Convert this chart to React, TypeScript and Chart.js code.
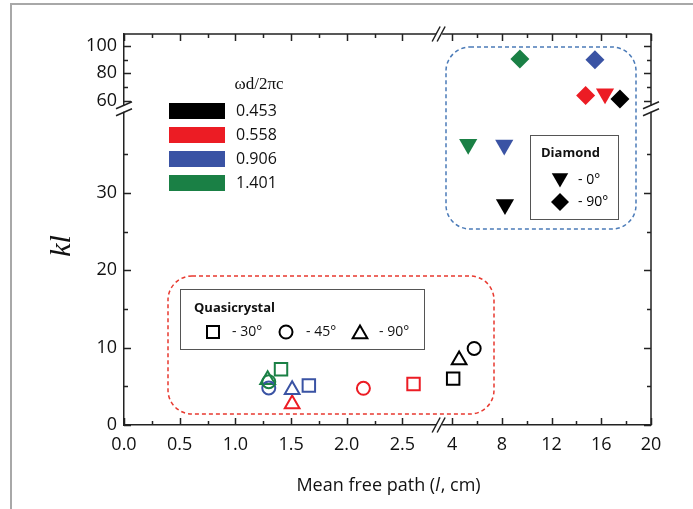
import React, { useEffect, useRef } from 'react';
import { Chart, registerables } from 'chart.js';
Chart.register(...registerables);

// ---------- data ----------
const freqLabels = ['0.453', '0.558', '0.906', '1.401'];
const freqColors = ['#000000', '#ec1c24', '#3a53a4', '#1a8045'];

// Quasicrystal (mean free path l, kl) per frequency
const qc30L = [4.08, 2.6, 1.66, 1.41];
const qc30KL = [6.0, 5.3, 5.1, 7.2];
const qc45L = [5.77, 2.15, 1.3, 1.3];
const qc45KL = [9.9, 4.75, 4.8, 5.6];
const qc90L = [4.56, 1.51, 1.51, 1.29];
const qc90KL = [8.4, 2.7, 4.55, 5.85];
// Diamond
const dia0L = [8.25, 16.3, 8.19, 5.29];
const dia0KL = [28.5, 65.1, 36.2, 36.3];
const dia90L = [17.5, 14.74, 15.49, 9.45];
const dia90KL = [61.3, 63.9, 89.9, 90.4];

// ticks
const xMajorLow = [0, 0.5, 1, 1.5, 2, 2.5];
const xMajorHigh = [4, 8, 12, 16, 20];
const xMinor = [0.25, 0.75, 1.25, 1.75, 2.25, 6, 10, 14, 18];
const yMajorLow = [0, 10, 20, 30];
const yMajorHigh = [60, 80, 100];
const yMinor = [5, 15, 25, 35, 70, 90];

// ---------- broken-axis transforms ----------
const tx = (l: number) => (l <= 3 ? l : 2.947 + (l - 4) * 0.1116);
const ty = (k: number) => (k <= 45 ? k : 41.91 + (k - 60) * 0.178);
const X_BREAK = 2.83;
const Y_BREAK = 40.9;

const FONT = '"Open Sans", sans-serif';
const xTickVals = [...xMajorLow, ...xMajorHigh];
const xTickLabels = [...xMajorLow.map((v) => v.toFixed(1)), ...xMajorHigh.map(String)];
const yTickVals = [...yMajorLow, ...yMajorHigh];
const yTickLabels = yTickVals.map(String);

const pts = (ls: number[], ks: number[]) => ls.map((l, i) => ({ x: tx(l), y: ty(ks[i]) }));

function roundRect(ctx: CanvasRenderingContext2D, x: number, y: number, w: number, h: number, r: number) {
  ctx.beginPath();
  ctx.moveTo(x + r, y);
  ctx.lineTo(x + w - r, y);
  ctx.arcTo(x + w, y, x + w, y + r, r);
  ctx.lineTo(x + w, y + h - r);
  ctx.arcTo(x + w, y + h, x + w - r, y + h, r);
  ctx.lineTo(x + r, y + h);
  ctx.arcTo(x, y + h, x, y + h - r, r);
  ctx.lineTo(x, y + r);
  ctx.arcTo(x, y, x + r, y, r);
  ctx.closePath();
}

function triangle(ctx: CanvasRenderingContext2D, x: number, y: number, r: number, down: boolean) {
  const s = down ? -1 : 1;
  ctx.beginPath();
  ctx.moveTo(x, y - s * r);
  ctx.lineTo(x + r * 0.866, y + s * r * 0.5);
  ctx.lineTo(x - r * 0.866, y + s * r * 0.5);
  ctx.closePath();
}

const decor = {
  id: 'decor',
  beforeDraw(chart: any) {
    const ctx = chart.ctx;
    ctx.save();
    ctx.fillStyle = '#ffffff';
    ctx.fillRect(0, 0, chart.width, chart.height);
    // outer frame
    ctx.strokeStyle = '#a8a8a8';
    ctx.lineWidth = 2;
    ctx.beginPath();
    ctx.moveTo(11, chart.height);
    ctx.lineTo(11, 4);
    ctx.lineTo(chart.width, 4);
    ctx.stroke();
    ctx.restore();
  },
  beforeDatasetsDraw(chart: any) {
    const ctx = chart.ctx;
    ctx.save();
    ctx.setLineDash([4, 3]);
    ctx.lineWidth = 1.5;
    ctx.strokeStyle = '#e8392f';
    roundRect(ctx, 168, 276, 326, 138, 24);
    ctx.stroke();
    ctx.strokeStyle = '#4b7bb8';
    roundRect(ctx, 446, 47, 190, 182, 24);
    ctx.stroke();
    ctx.restore();
  },
  afterDraw(chart: any) {
    const ctx = chart.ctx;
    const xs = chart.scales.x;
    const ys = chart.scales.y;
    const { left, right, top, bottom } = chart.chartArea;
    ctx.save();
    ctx.strokeStyle = '#222';
    ctx.lineWidth = 1.5;
    // top & right axis lines
    ctx.beginPath();
    ctx.moveTo(left, top);
    ctx.lineTo(right, top);
    ctx.lineTo(right, bottom);
    ctx.stroke();
    // ticks (inward)
    const xt = (v: number, len: number) => {
      const p = Math.round(xs.getPixelForValue(tx(v))) + 0.5;
      ctx.beginPath();
      ctx.moveTo(p, bottom);
      ctx.lineTo(p, bottom - len);
      ctx.moveTo(p, top);
      ctx.lineTo(p, top + len);
      ctx.stroke();
    };
    const yt = (v: number, len: number) => {
      const p = Math.round(ys.getPixelForValue(ty(v))) + 0.5;
      ctx.beginPath();
      ctx.moveTo(left, p);
      ctx.lineTo(left + len, p);
      ctx.moveTo(right, p);
      ctx.lineTo(right - len, p);
      ctx.stroke();
    };
    xTickVals.forEach((v) => xt(v, 7));
    xMinor.forEach((v) => xt(v, 4));
    yTickVals.forEach((v) => yt(v, 7));
    yMinor.forEach((v) => yt(v, 4));

    // axis breaks
    const bx = xs.getPixelForValue(X_BREAK);
    [bottom, top].forEach((yy) => {
      ctx.fillStyle = '#fff';
      ctx.fillRect(bx - 3, yy - 2, 6, 4);
      ctx.beginPath();
      ctx.moveTo(bx - 7, yy + 7.5);
      ctx.lineTo(bx + 1, yy - 7.5);
      ctx.moveTo(bx - 2, yy + 7.5);
      ctx.lineTo(bx + 6, yy - 7.5);
      ctx.stroke();
    });
    const by = ys.getPixelForValue(Y_BREAK);
    [left, right].forEach((xx) => {
      ctx.fillStyle = '#fff';
      ctx.fillRect(xx - 2, by - 3, 4, 6);
      ctx.beginPath();
      ctx.moveTo(xx - 8, by - 0);
      ctx.lineTo(xx + 8, by - 7);
      ctx.moveTo(xx - 8, by + 7);
      ctx.lineTo(xx + 8, by + 0);
      ctx.stroke();
    });

    // axis titles
    ctx.fillStyle = '#111';
    ctx.textBaseline = 'alphabetic';
    const p1 = 'Mean free path (';
    const p2 = 'l';
    const p3 = ', cm)';
    ctx.font = `18px ${FONT}`;
    const w1 = ctx.measureText(p1).width;
    const w3 = ctx.measureText(p3).width;
    ctx.font = `italic 18px ${FONT}`;
    const w2 = ctx.measureText(p2).width;
    const sx = 388 - (w1 + w2 + w3) / 2;
    ctx.textAlign = 'left';
    ctx.font = `18px ${FONT}`;
    ctx.fillText(p1, sx, 491);
    ctx.font = `italic 18px ${FONT}`;
    ctx.fillText(p2, sx + w1, 491);
    ctx.font = `18px ${FONT}`;
    ctx.fillText(p3, sx + w1 + w2 + 1, 491);

    ctx.save();
    ctx.translate(70, 246);
    ctx.rotate(-Math.PI / 2);
    ctx.font = 'italic 30px "Liberation Serif", serif';
    ctx.textAlign = 'center';
    ctx.fillText('kl', 0, 0);
    ctx.restore();

    // frequency legend
    ctx.font = '17px "Liberation Serif", serif';
    ctx.textAlign = 'center';
    ctx.textBaseline = 'middle';
    ctx.fillText('ωd/2πc', 259, 85);
    ctx.textAlign = 'left';
    ctx.font = `16px ${FONT}`;
    freqLabels.forEach((lab, i) => {
      const y0 = 103 + i * 24;
      ctx.fillStyle = freqColors[i];
      ctx.fillRect(169, y0, 56, 16);
      ctx.fillStyle = '#111';
      ctx.fillText(lab, 236, y0 + 8.5);
    });

    // Quasicrystal legend
    ctx.lineWidth = 1;
    ctx.strokeStyle = '#555';
    ctx.setLineDash([]);
    ctx.strokeRect(180.5, 289.5, 244, 60);
    ctx.fillStyle = '#111';
    ctx.font = `bold 13px ${FONT}`;
    ctx.fillText('Quasicrystal', 194, 308);
    ctx.font = `14px ${FONT}`;
    ctx.strokeStyle = '#000';
    ctx.lineWidth = 2;
    ctx.strokeRect(207, 326, 12, 12);
    ctx.fillText('- 30°', 232, 332);
    ctx.beginPath();
    ctx.arc(286, 332, 6.5, 0, Math.PI * 2);
    ctx.stroke();
    ctx.fillText('- 45°', 306, 332);
    triangle(ctx, 360, 334, 8.5, false);
    ctx.stroke();
    ctx.fillText('- 90°', 379, 332);

    // Diamond legend
    ctx.lineWidth = 1;
    ctx.strokeStyle = '#555';
    ctx.strokeRect(530.5, 135.5, 88, 84);
    ctx.font = `bold 13px ${FONT}`;
    ctx.fillText('Diamond', 541, 153);
    ctx.font = `14px ${FONT}`;
    ctx.fillStyle = '#000';
    triangle(ctx, 560, 178, 9.5, true);
    ctx.fill();
    ctx.fillText('- 0°', 578, 180);
    ctx.beginPath();
    ctx.moveTo(560, 193);
    ctx.lineTo(569, 202);
    ctx.lineTo(560, 211);
    ctx.lineTo(551, 202);
    ctx.closePath();
    ctx.fill();
    ctx.fillText('- 90°', 578, 202);
    ctx.restore();
  },
};

export default function App() {
  const ref = useRef<HTMLCanvasElement>(null);
  useEffect(() => {
    const hollow = 'rgba(0,0,0,0)';
    const chart = new Chart(ref.current as HTMLCanvasElement, {
      type: 'scatter',
      data: {
        datasets: [
          { label: 'Quasicrystal -30°', data: pts(qc30L, qc30KL), pointStyle: 'rect', pointRadius: 8.8, pointBorderWidth: 2, pointBorderColor: freqColors, pointBackgroundColor: hollow },
          { label: 'Quasicrystal -45°', data: pts(qc45L, qc45KL), pointStyle: 'circle', pointRadius: 6.5, pointBorderWidth: 2, pointBorderColor: freqColors, pointBackgroundColor: hollow },
          { label: 'Quasicrystal -90°', data: pts(qc90L, qc90KL), pointStyle: 'triangle', pointRadius: 8.5, pointBorderWidth: 2, pointBorderColor: freqColors, pointBackgroundColor: hollow },
          { label: 'Diamond -0°', data: pts(dia0L, dia0KL), pointStyle: 'triangle', pointRotation: 180, pointRadius: 10.5, pointBorderWidth: 0, pointBorderColor: freqColors, pointBackgroundColor: freqColors },
          { label: 'Diamond -90°', data: pts(dia90L, dia90KL), pointStyle: 'rectRot', pointRadius: 9.5, pointBorderWidth: 0, pointBorderColor: freqColors, pointBackgroundColor: freqColors },
        ] as any,
      },
      options: {
        responsive: false,
        animation: false,
        events: [],
        layout: { padding: { left: 0, top: 34, right: 42, bottom: 0 } },
        plugins: { legend: { display: false }, tooltip: { enabled: false } },
        scales: {
          x: {
            type: 'linear',
            min: 0,
            max: tx(20),
            afterFit: (s: any) => { s.height = 84; },
            afterBuildTicks: (s: any) => { s.ticks = xTickVals.map((v) => ({ value: tx(v) })); },
            ticks: {
              autoSkip: false,
              maxRotation: 0,
              padding: 9,
              color: '#111',
              font: { family: FONT, size: 18 },
              callback: (_v: any, i: number) => xTickLabels[i],
            },
            grid: { display: false, drawTicks: false },
            border: { display: true, color: '#222', width: 1.5 },
          },
          y: {
            type: 'linear',
            min: 0,
            max: 50.56,
            afterFit: (s: any) => { s.width = 124; },
            afterBuildTicks: (s: any) => { s.ticks = yTickVals.map((v) => ({ value: ty(v) })); },
            ticks: {
              autoSkip: false,
              padding: 7,
              color: '#111',
              font: { family: FONT, size: 18 },
              callback: (_v: any, i: number) => yTickLabels[i],
            },
            grid: { display: false, drawTicks: false },
            border: { display: true, color: '#222', width: 1.5 },
          },
        },
      } as any,
      plugins: [decor],
    });
    return () => chart.destroy();
  }, []);
  return (
    <div style={{ position: 'fixed', left: 0, top: 0, width: 693, height: 509, background: '#fff' }}>
      <canvas ref={ref} width={693} height={509} style={{ display: 'block', width: 693, height: 509 }} />
    </div>
  );
}
